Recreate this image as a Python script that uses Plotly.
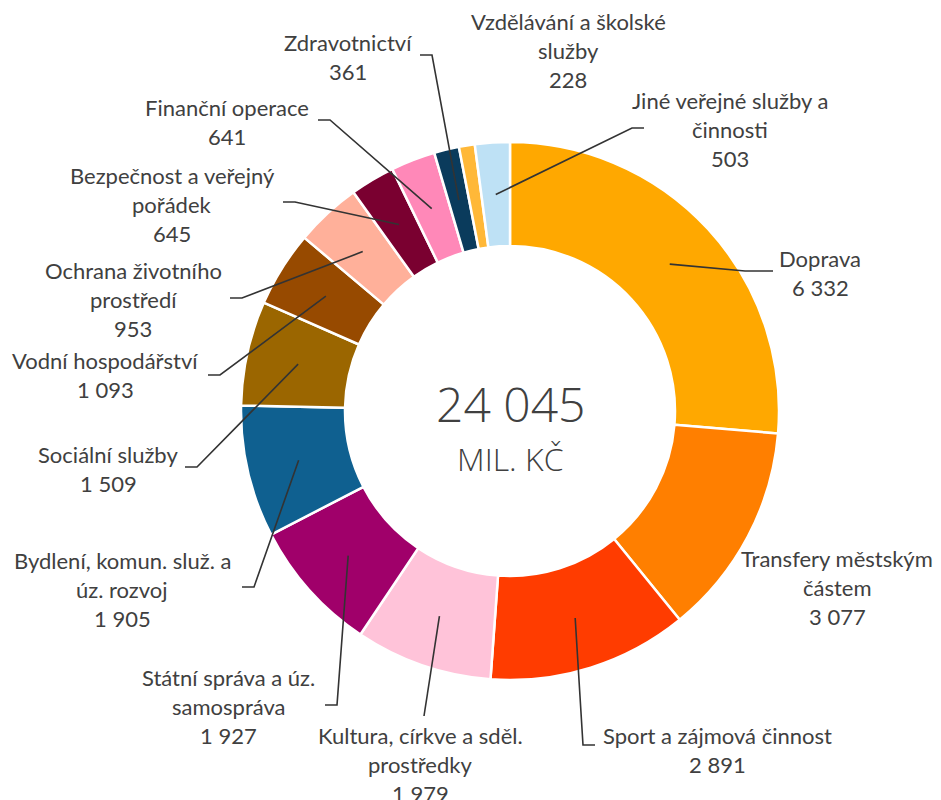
import math
import plotly.graph_objects as go

# data
categories = [
    "Doprava",
    "Transfery městským\nčástem",
    "Sport a zájmová činnost",
    "Kultura, církve a sděl.\nprostředky",
    "Státní správa a úz.\nsamospráva",
    "Bydlení, komun. služ. a\núz. rozvoj",
    "Sociální služby",
    "Vodní hospodářství",
    "Ochrana životního\nprostředí",
    "Bezpečnost a veřejný\npořádek",
    "Finanční operace",
    "Zdravotnictví",
    "Vzdělávání a školské\nslužby",
    "Jiné veřejné služby a\nčinnosti",
]
values = [6332, 3077, 2891, 1979, 1927, 1905, 1509, 1093, 953, 645, 641, 361, 228, 503]
total_text = "24 045"
unit_text = "MIL. KČ"

colors = [
    "#FFA800", "#FF7F00", "#FF3C00", "#FFC3D9", "#A0006A", "#0F6090", "#9B6600",
    "#974A00", "#FFB09A", "#7A0030", "#FF88B8", "#0A3B5C", "#FFB838", "#BEE1F5",
]

# layout (pixel positions in the 941x800 page; the page body has an 8px margin)
W, H, OFF = 941, 800, 8
CX, CY, R_OUT, R_IN = 510, 411, 269, 165
label_pos = [
    (820, 273), (837, 587), (717, 750), (420, 764), (228, 706), (122, 589), (108, 469),
    (105, 375), (133, 299), (172, 204), (227, 122), (348, 57), (568, 50), (730, 129),
]
leader_pts = [
    [(773, 271), (745, 271)], None, [(595, 745), (583, 745)], [(424, 716)],
    [(325, 705), (337, 705)], [(242, 587), (254, 587)], [(185, 467), (197, 467)],
    [(208, 375), (220, 375)], [(230, 298), (242, 298)], [(283, 202), (295, 202)],
    [(318, 120), (330, 120)], [(420, 55), (432, 55)], None, [(644, 128), (632, 128)],
]
LINE_GAP = 29
TEXT = "#404040"

FW, FH = W - OFF, H - OFF

fig = go.Figure()
fig.add_trace(go.Pie(
    labels=[c.replace("\n", " ") for c in categories],
    values=values,
    sort=False,
    direction="clockwise",
    rotation=0,
    hole=R_IN / R_OUT,
    marker=dict(colors=colors, line=dict(color="white", width=2.5)),
    textinfo="none",
    showlegend=False,
    domain=dict(x=[(CX - OFF - R_OUT) / FW, (CX - OFF + R_OUT) / FW],
                y=[(H - CY - R_OUT) / FH, (H - CY + R_OUT) / FH]),
))

total = sum(values)
cum = 0
annotations = []
shapes = []
for cat, val, pos, pts in zip(categories, values, label_pos, leader_pts):
    mid = (cum + val / 2) / total * 2 * math.pi
    cum += val
    r_mid = (R_OUT + R_IN) / 2
    ax, ay = CX + r_mid * math.sin(mid), CY - r_mid * math.cos(mid)
    if pts:
        path = "M " + " L ".join(f"{x},{y}" for x, y in pts + [(ax, ay)])
        shapes.append(dict(type="path", path=path, xref="x", yref="y", layer="above",
                           line=dict(color="#333333", width=1.6)))
    lines = cat.split("\n") + [f"{val:,}".replace(",", " ")]
    n = len(lines)
    for i, t in enumerate(lines):
        annotations.append(dict(
            x=pos[0], y=pos[1] + (i - (n - 1) / 2) * LINE_GAP, xref="x", yref="y",
            text=t, showarrow=False, xanchor="center", yanchor="middle",
            font=dict(family="Lato", size=22, color=TEXT),
        ))

annotations.append(dict(x=CX, y=CY - 8, xref="x", yref="y", text=total_text, showarrow=False,
                        font=dict(family="Open Sans", size=48, color=TEXT, weight=300)))
annotations.append(dict(x=CX, y=CY + 47, xref="x", yref="y", text=unit_text, showarrow=False,
                        font=dict(family="Open Sans", size=32, color=TEXT, weight=300)))

fig.update_layout(
    width=FW, height=FH,
    margin=dict(l=0, r=0, t=0, b=0),
    paper_bgcolor="white", plot_bgcolor="rgba(0,0,0,0)",
    xaxis=dict(range=[OFF, W], visible=False, fixedrange=True),
    yaxis=dict(range=[H, OFF], visible=False, fixedrange=True),
    annotations=annotations,
    shapes=shapes,
)

fig.write_html("out.html")
